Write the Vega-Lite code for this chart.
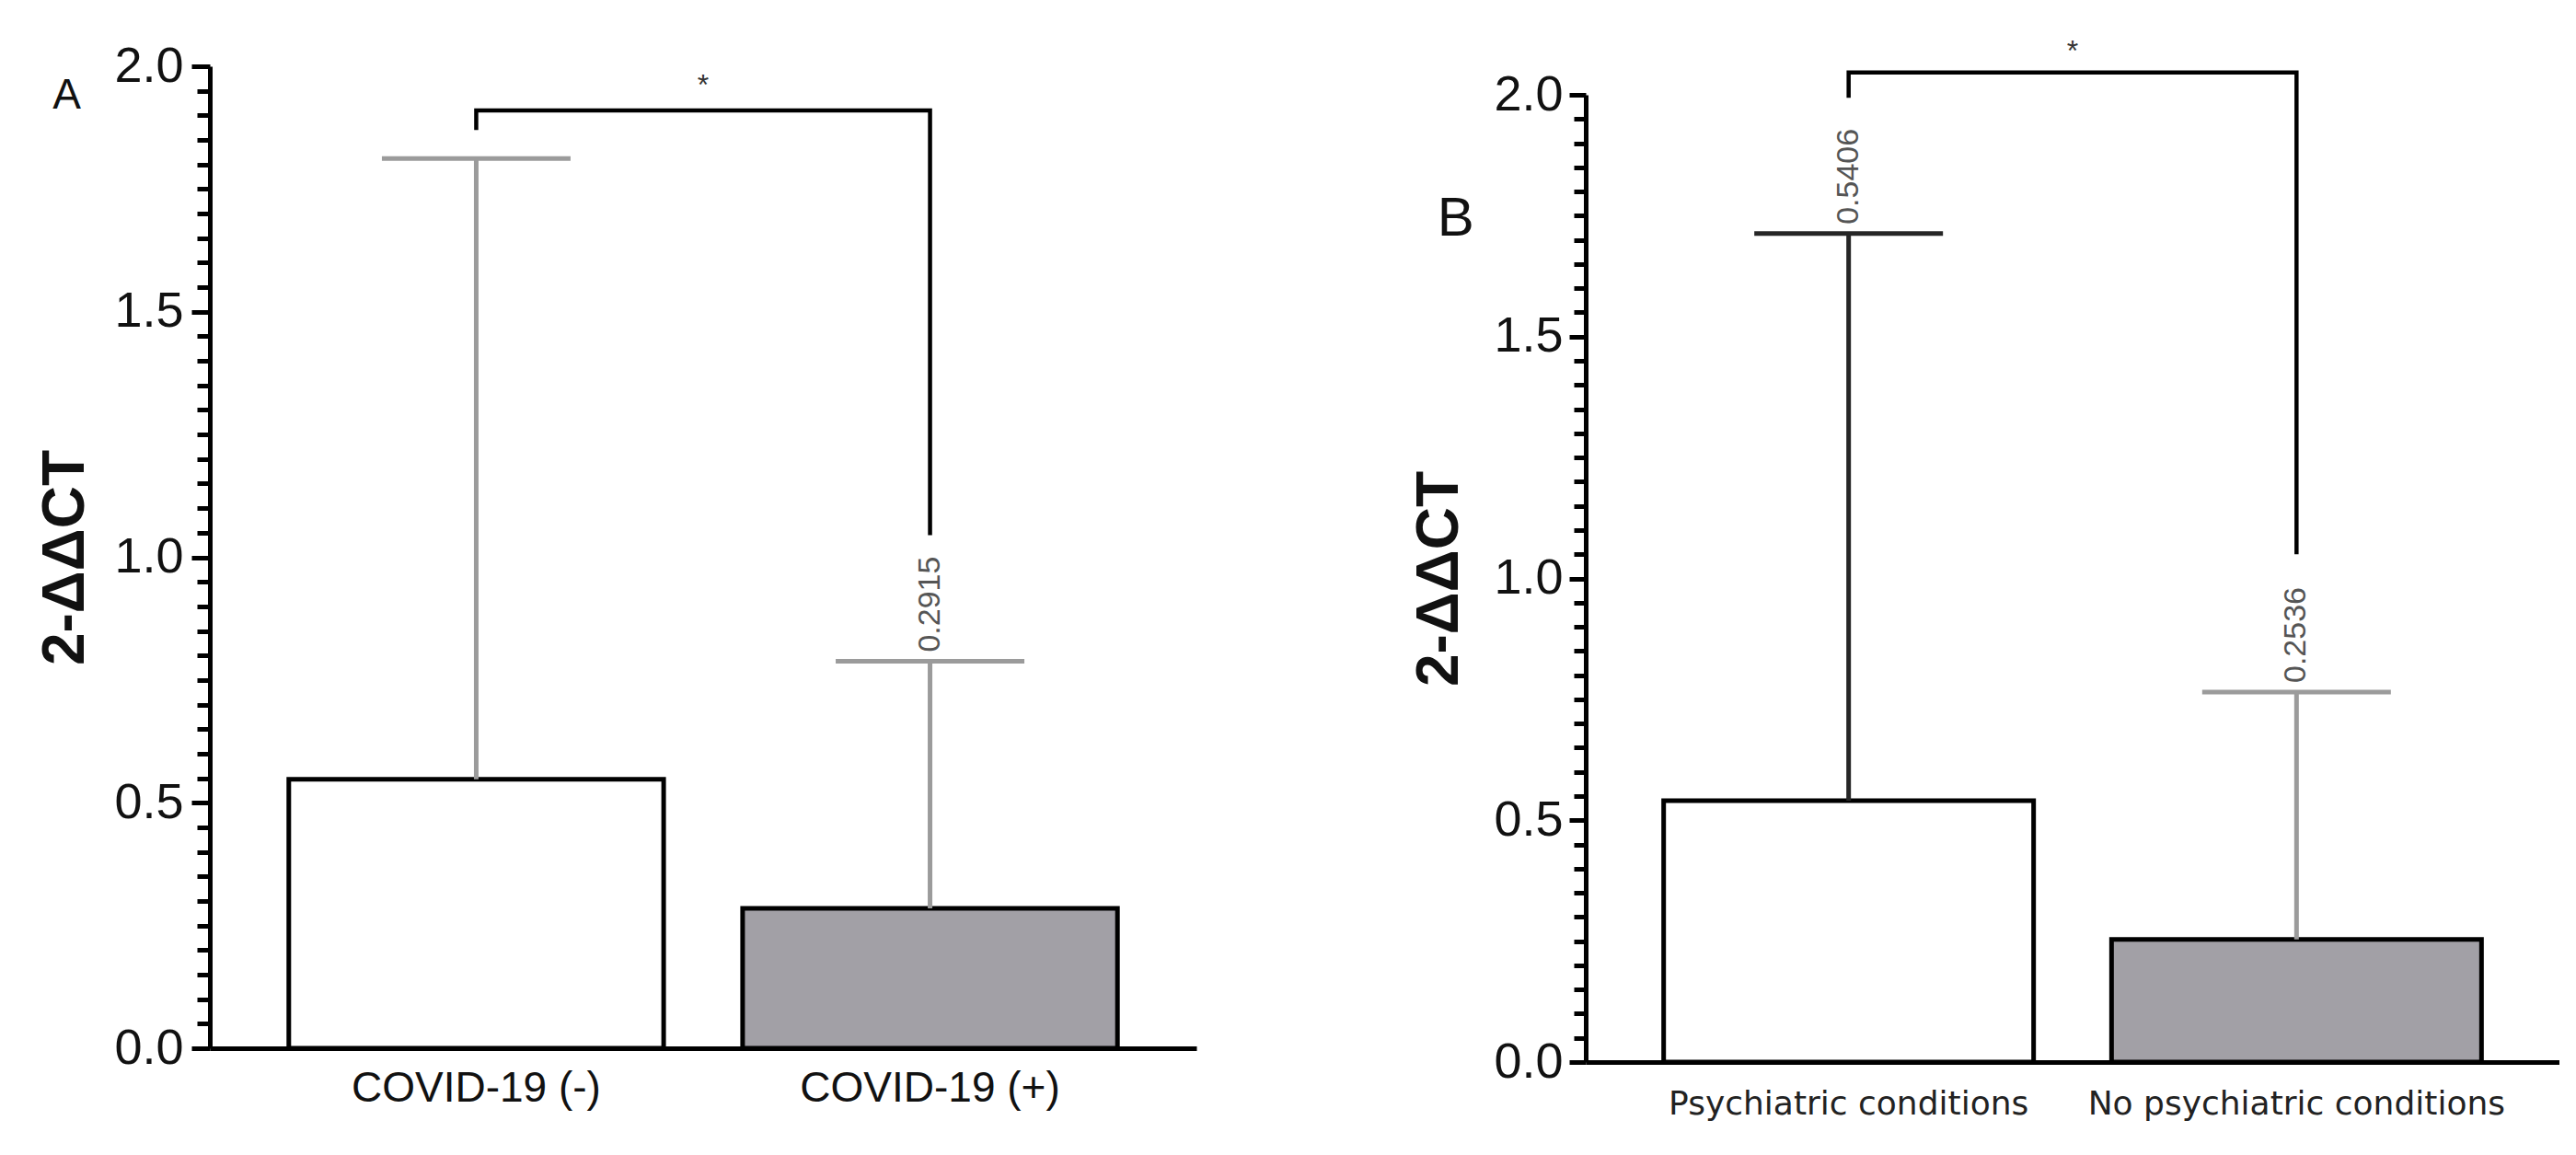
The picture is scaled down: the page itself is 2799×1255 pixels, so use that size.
{
  "$schema": "https://vega.github.io/schema/vega-lite/v6.json",
  "background": "white",
  "padding": {"left": 39, "top": 39, "right": 0, "bottom": 12},
  "spacing": 232,
  "config": {
    "view": {"stroke": null},
    "font": "Liberation Sans",
    "axis": {"domainColor": "black", "domainWidth": 5, "tickColor": "black", "tickWidth": 5, "grid": false, "labelColor": "#111", "titleColor": "#111"}
  },
  "datasets": {
    "barsA": [
      {"group": "COVID-19 (-)", "mean": 0.548, "upper": 1.812, "label": null},
      {"group": "COVID-19 (+)", "mean": 0.285, "upper": 0.788, "label": "0.2915"}
    ],
    "bracketA": [
      {"group": "COVID-19 (-)", "y": 1.87, "o": 1},
      {"group": "COVID-19 (-)", "y": 1.91, "o": 2},
      {"group": "COVID-19 (+)", "y": 1.91, "o": 3},
      {"group": "COVID-19 (+)", "y": 1.045, "o": 4}
    ],
    "starA": [{"group": "COVID-19 (-)", "y": 1.96, "text": "*"}],
    "letterA": [{"group": "COVID-19 (-)", "y": 1.94, "text": "A"}],
    "barsB": [
      {"group": "Psychiatric conditions", "mean": 0.5406, "upper": 1.713, "label": "0.5406"},
      {"group": "No psychiatric conditions", "mean": 0.2536, "upper": 0.765, "label": "0.2536"}
    ],
    "bracketB": [
      {"group": "Psychiatric conditions", "y": 1.994, "o": 1},
      {"group": "Psychiatric conditions", "y": 2.046, "o": 2},
      {"group": "No psychiatric conditions", "y": 2.046, "o": 3},
      {"group": "No psychiatric conditions", "y": 1.05, "o": 4}
    ],
    "starB": [{"group": "Psychiatric conditions", "y": 2.09, "text": "*"}],
    "letterB": [{"group": "Psychiatric conditions", "y": 1.743, "text": "B"}]
  },
  "hconcat": [
    {
      "width": 1072,
      "height": 1067,
      "encoding": {
        "x": {"field": "group", "type": "nominal", "sort": null,
          "scale": {"domain": ["COVID-19 (-)", "COVID-19 (+)"], "paddingInner": 0.174, "paddingOuter": 0.174},
          "axis": {"title": null, "labelAngle": 0, "ticks": false, "labelFontSize": 46, "labelPadding": 21, "labelLimit": 0, "labelColor": "#111"}},
        "y": {"type": "quantitative",
          "scale": {"domain": [0, 2], "nice": false, "zero": true},
          "axis": {"title": "2-ΔΔCT", "titleFontSize": 64, "titleFontWeight": "bold", "titlePadding": 20,
            "values": [0,0.05,0.1,0.15,0.2,0.25,0.3,0.35,0.4,0.45,0.5,0.55,0.6,0.65,0.7,0.75,0.8,0.85,0.9,0.95,1,1.05,1.1,1.15,1.2,1.25,1.3,1.35,1.4,1.45,1.5,1.55,1.6,1.65,1.7,1.75,1.8,1.85,1.9,1.95,2],
            "labelExpr": "abs(round(datum.value*100) % 50) == 0 ? format(datum.value, '.1f') : ''",
            "labelFontSize": 54, "labelPadding": 9, "labelOverlap": false, "labelFlush": false,
            "tickSize": {"condition": {"test": "abs(round(datum.value*100) % 50) == 0", "value": 20}, "value": 14}}}
      },
      "layer": [
        {"data": {"name": "barsA"}, "mark": {"type": "bar", "stroke": "black", "strokeWidth": 5},
          "encoding": {"y": {"field": "mean"},
            "fill": {"field": "group", "type": "nominal", "sort": null, "scale": {"domain": ["COVID-19 (-)", "COVID-19 (+)"], "range": ["white", "#a2a0a6"]}, "legend": null}}},
        {"data": {"name": "barsA"}, "mark": {"type": "rule", "color": "#9b9b9b", "strokeWidth": 5},
          "encoding": {"y": {"field": "mean"}, "y2": {"field": "upper"}}},
        {"data": {"name": "barsA"}, "mark": {"type": "tick", "color": "#9b9b9b", "thickness": 5, "size": 205, "opacity": 1},
          "encoding": {"y": {"field": "upper"}}},
        {"data": {"name": "bracketA"}, "mark": {"type": "line", "color": "black", "strokeWidth": 4.5, "strokeJoin": "miter", "strokeCap": "butt"},
          "encoding": {"y": {"field": "y"}, "order": {"field": "o", "type": "quantitative"}}},
        {"data": {"name": "starA"}, "mark": {"type": "text", "fontSize": 32, "color": "#333", "baseline": "middle", "align": "center"},
          "encoding": {"x": {"field": "group", "type": "nominal", "bandPosition": 1.105}, "y": {"field": "y"}, "text": {"field": "text"}}},
        {"data": {"name": "letterA"}, "mark": {"type": "text", "fontSize": 46, "color": "#111", "baseline": "middle", "align": "center"},
          "encoding": {"x": {"field": "group", "type": "nominal", "bandPosition": -0.592}, "y": {"field": "y"}, "text": {"field": "text"}}},
        {"data": {"name": "barsA"}, "transform": [{"filter": "datum.label != null"}],
          "mark": {"type": "text", "fontSize": 34, "color": "#555", "angle": 270, "align": "left", "baseline": "middle", "dx": 10},
          "encoding": {"y": {"field": "upper"}, "text": {"field": "label"}}}
      ]
    },
    {
      "width": 1058,
      "height": 1082,
      "encoding": {
        "x": {"field": "group", "type": "nominal", "sort": null,
          "scale": {"domain": ["Psychiatric conditions", "No psychiatric conditions"], "paddingInner": 0.174, "paddingOuter": 0.174},
          "axis": {"title": null, "labelAngle": 0, "ticks": false, "labelFont": "DejaVu Sans", "labelFontSize": 36, "labelPadding": 28, "labelLimit": 0, "labelColor": "#222"}},
        "y": {"type": "quantitative",
          "scale": {"domain": [0, 2], "nice": false, "zero": true, "range": [1082, 31]},
          "axis": {"title": "2-ΔΔCT", "titleFontSize": 64, "titleFontWeight": "bold", "titlePadding": 26,
            "values": [0,0.05,0.1,0.15,0.2,0.25,0.3,0.35,0.4,0.45,0.5,0.55,0.6,0.65,0.7,0.75,0.8,0.85,0.9,0.95,1,1.05,1.1,1.15,1.2,1.25,1.3,1.35,1.4,1.45,1.5,1.55,1.6,1.65,1.7,1.75,1.8,1.85,1.9,1.95,2],
            "labelExpr": "abs(round(datum.value*100) % 50) == 0 ? format(datum.value, '.1f') : ''",
            "labelFontSize": 54, "labelPadding": 7, "labelOverlap": false, "labelFlush": false,
            "tickSize": {"condition": {"test": "abs(round(datum.value*100) % 50) == 0", "value": 18}, "value": 13}}}
      },
      "layer": [
        {"data": {"name": "barsB"}, "mark": {"type": "bar", "stroke": "black", "strokeWidth": 5},
          "encoding": {"y": {"field": "mean"},
            "fill": {"field": "group", "type": "nominal", "sort": null, "scale": {"domain": ["Psychiatric conditions", "No psychiatric conditions"], "range": ["white", "#a2a0a6"]}, "legend": null}}},
        {"data": {"name": "barsB"}, "mark": {"type": "rule", "strokeWidth": 5},
          "encoding": {"y": {"field": "mean"}, "y2": {"field": "upper"},
            "color": {"field": "group", "type": "nominal", "sort": null, "scale": {"domain": ["Psychiatric conditions", "No psychiatric conditions"], "range": ["#262626", "#9b9b9b"]}, "legend": null}}},
        {"data": {"name": "barsB"}, "mark": {"type": "tick", "thickness": 5, "size": 205, "opacity": 1},
          "encoding": {"y": {"field": "upper"},
            "color": {"field": "group", "type": "nominal", "sort": null, "legend": null}}},
        {"data": {"name": "bracketB"}, "mark": {"type": "line", "color": "black", "strokeWidth": 4.5, "strokeJoin": "miter", "strokeCap": "butt"},
          "encoding": {"y": {"field": "y"}, "order": {"field": "o", "type": "quantitative"}}},
        {"data": {"name": "starB"}, "mark": {"type": "text", "fontSize": 32, "color": "#333", "baseline": "middle", "align": "center"},
          "encoding": {"x": {"field": "group", "type": "nominal", "bandPosition": 1.105}, "y": {"field": "y"}, "text": {"field": "text"}}},
        {"data": {"name": "letterB"}, "mark": {"type": "text", "fontSize": 60, "color": "#111", "baseline": "middle", "align": "center"},
          "encoding": {"x": {"field": "group", "type": "nominal", "bandPosition": -0.562}, "y": {"field": "y"}, "text": {"field": "text"}}},
        {"data": {"name": "barsB"},
          "mark": {"type": "text", "fontSize": 34, "color": "#555", "angle": 270, "align": "left", "baseline": "middle", "dx": 10},
          "encoding": {"y": {"field": "upper"}, "text": {"field": "label"}}}
      ]
    }
  ]
}
